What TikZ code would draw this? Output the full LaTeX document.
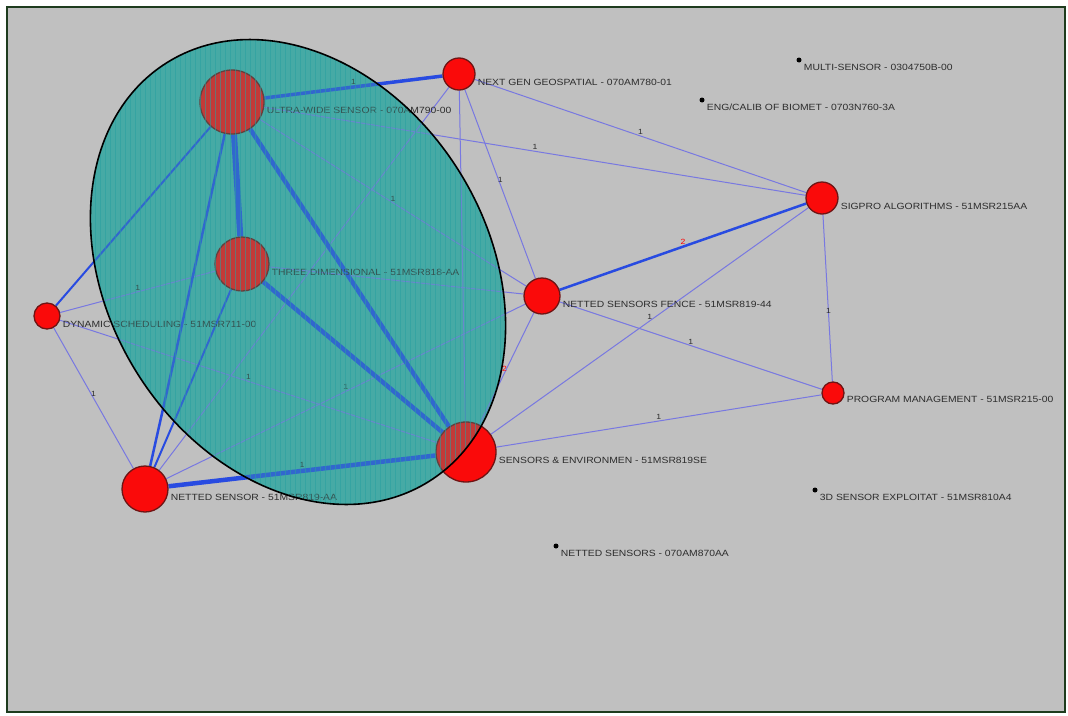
\documentclass[tikz,border=0pt]{standalone}
\usepackage{fontspec}
\usepackage{tikz}
\usetikzlibrary{positioning}
\newfontfamily\lblfont[FakeStretch=1.15]{Liberation Sans}
\definecolor{PanelGray}{RGB}{192, 192, 192}
\definecolor{FrameGreen}{RGB}{30, 60, 30}
\definecolor{NodeRed}{RGB}{250, 10, 10}
\definecolor{NodeEdge}{RGB}{110, 20, 20}
\definecolor{LinkBlue}{RGB}{40, 75, 225}
\definecolor{LinkThin}{RGB}{120, 120, 225}
\definecolor{ClusterTeal}{RGB}{70, 170, 165}
\definecolor{GridTeal}{RGB}{40, 160, 160}
\definecolor{LabelGray}{RGB}{45, 45, 45}
\pgfdeclarelayer{background}
\pgfsetlayers{background,main}

\tikzset{
  redball/.style={circle, draw=NodeEdge, fill=NodeRed, line width=1.3pt, inner sep=0pt},
  blackdot/.style={circle, fill=black, inner sep=0pt, minimum size=5pt},
  lbl/.style={font=\lblfont\fontsize{9}{10}\selectfont, text=LabelGray, inner sep=0pt, anchor=west},
  thinlink/.style={draw=LinkThin, line width=1pt},
  thicklink/.style={draw=LinkBlue},
  elbl/.style={font=\lblfont\fontsize{7.5}{8}\selectfont, text=LabelGray, inner sep=1pt, above},
}

\begin{document}
\begin{tikzpicture}[x=1pt, y=-1pt]
    \useasboundingbox (0,0) rectangle (1068,715);

    % project nodes
    \node[redball, minimum size=64pt] (adv) at (232,102) {};
    \node[redball, minimum size=32pt] (nextgen) at (459,74) {};
    \node[redball, minimum size=54pt] (threed) at (242,264) {};
    \node[redball, minimum size=26pt] (dyn) at (47,316) {};
    \node[redball, minimum size=36pt] (fence) at (542,296) {};
    \node[redball, minimum size=32pt] (sigpro) at (822,198) {};
    \node[redball, minimum size=22pt] (progm) at (833,393) {};
    \node[redball, minimum size=60pt] (senv) at (466,452) {};
    \node[redball, minimum size=46pt] (netted) at (145,489) {};

    % loose projects
    \node[blackdot] (multi) at (799,60) {};
    \node[blackdot] (engcal) at (702,100) {};
    \node[blackdot] (tdexp) at (815,490) {};
    \node[blackdot] (nsens) at (556,546) {};

    \begin{pgfonlayer}{background}
    % panel
    \fill[white] (0,0) rectangle (1068,715);
    \fill[PanelGray] (7,7) rectangle (1065,712);
    \draw[FrameGreen, line width=1.5pt] (7,7) rectangle (1065,712);

    % cluster ellipse (fill)
    \fill[ClusterTeal, shift={(298,272)}, rotate=32] (0,0) ellipse [x radius=190, y radius=247];

    % links
    \path[thinlink] (adv) -- node[elbl] (l1) {1} (sigpro);
    \path[thinlink] (adv) -- node[elbl] (l2) {1} (fence);
    \path[thinlink] (nextgen) -- node[elbl] (l3) {1} (sigpro);
    \path[thinlink] (nextgen) -- node[elbl] (l4) {1} (fence);
    \path[thinlink] (nextgen) -- (senv);
    \path[thinlink] (nextgen) -- node[elbl, pos=0.42] (l5) {1} (netted);
    \path[thinlink] (dyn) -- node[elbl] (l6) {1} (threed);
    \path[thinlink] (dyn) -- node[elbl] (l7) {1} (netted);
    \path[thinlink] (dyn) -- node[elbl] (l8) {1} (senv);
    \path[thinlink] (threed) -- (fence);
    \path[thinlink] (netted) -- node[elbl] (l9) {1} (fence);
    \path[thinlink] (fence) -- node[elbl, pos=0.54, text=red] (l10) {2} (senv);
    \path[thinlink] (fence) -- node[elbl] (l11) {1} (progm);
    \path[thinlink] (sigpro) -- node[elbl, pos=0.6] (l12) {1} (progm);
    \path[thinlink] (sigpro) -- node[elbl] (l13) {1} (senv);
    \path[thinlink] (progm) -- node[elbl] (l14) {1} (senv);
    \path[thicklink, line width=2.5pt] (fence) -- node[elbl, text=red] (l15) {2} (sigpro);
    \path[thicklink, line width=3.5pt] (adv) -- node[elbl] (l16) {1} (nextgen);
    \path[thicklink, line width=2pt] (adv) -- (dyn);
    \path[thicklink, line width=2.5pt] (adv) -- (netted);
    \path[thicklink, line width=2pt] (threed) -- (netted);
    \path[thicklink, line width=6pt] (adv) -- (threed);
    \path[thicklink, line width=4.5pt] (adv) -- (senv);
    \path[thicklink, line width=4.5pt] (threed) -- (senv);
    \path[thicklink, line width=4.5pt] (senv) -- node[elbl] (l17) {1} (netted);
    \end{pgfonlayer}

    % labels
    \node[lbl] (advl) at ([xshift=2pt, yshift=-8pt]adv.east) {ULTRA-WIDE SENSOR - 070AM790-00};
    \node[lbl] (nextgenl) at ([xshift=2pt, yshift=-8pt]nextgen.east) {NEXT GEN GEOSPATIAL - 070AM780-01};
    \node[lbl] (threedl) at ([xshift=2pt, yshift=-8pt]threed.east) {THREE DIMENSIONAL - 51MSR818-AA};
    \node[lbl] (dynl) at ([xshift=2pt, yshift=-8pt]dyn.east) {DYNAMIC SCHEDULING - 51MSR711-00};
    \node[lbl] (fencel) at ([xshift=2pt, yshift=-8pt]fence.east) {NETTED SENSORS FENCE - 51MSR819-44};
    \node[lbl] (sigprol) at ([xshift=2pt, yshift=-8pt]sigpro.east) {SIGPRO ALGORITHMS - 51MSR215AA};
    \node[lbl] (progml) at ([xshift=2pt, yshift=-6pt]progm.east) {PROGRAM MANAGEMENT - 51MSR215-00};
    \node[lbl] (senvl) at ([xshift=2pt, yshift=-8pt]senv.east) {SENSORS \& ENVIRONMEN - 51MSR819SE};
    \node[lbl] (nettedl) at ([xshift=2pt, yshift=-8pt]netted.east) {NETTED SENSOR - 51MSR819-AA};
    \node[lbl] (multil) at ([xshift=2pt, yshift=-7pt]multi.east) {MULTI-SENSOR - 0304750B-00};
    \node[lbl] (engcall) at ([xshift=2pt, yshift=-7pt]engcal.east) {ENG/CALIB OF BIOMET - 0703N760-3A};
    \node[lbl] (tdexpl) at ([xshift=2pt, yshift=-7pt]tdexp.east) {3D SENSOR EXPLOITAT - 51MSR810A4};
    \node[lbl] (nsensl) at ([xshift=2pt, yshift=-7pt]nsens.east) {NETTED SENSORS - 070AM870AA};

    % cluster ellipse (mesh overlay + outline)
    \begin{scope}
      \clip[shift={(298,272)}, rotate=32] (0,0) ellipse [x radius=190, y radius=247];
      \fill[ClusterTeal, fill opacity=0.3] (0,0) rectangle (1068,715);
      \draw[GridTeal, line width=0.7pt, opacity=0.55, step=5] (80,30) grid (520,520);
    \end{scope}
    \draw[black, line width=1.6pt, shift={(298,272)}, rotate=32] (0,0) ellipse [x radius=190, y radius=247];
\end{tikzpicture}
\end{document}
